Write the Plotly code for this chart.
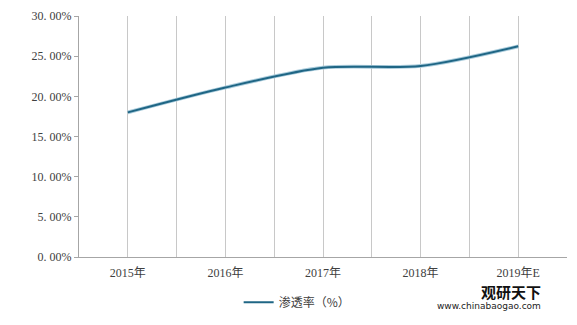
import plotly.graph_objects as go

categories = ["2015年", "2016年", "2017年", "2018年", "2019年E"]
penetration = [0.180, 0.211, 0.2356, 0.2378, 0.2623]
series_name = "渗透率（%）"
y_ticks = [0, 0.05, 0.10, 0.15, 0.20, 0.25, 0.30]
y_tick_text = ["0. 00%", "5. 00%", "10. 00%", "15. 00%", "20. 00%", "25. 00%", "30. 00%"]

xs = list(range(len(categories)))
font_family = "Liberation Serif, Noto Sans CJK SC, serif"

fig = go.Figure()
fig.add_trace(go.Scatter(
    x=xs, y=penetration, mode="lines", line=dict(color="#a9cbdb", width=3.8, shape="spline", smoothing=0.8),
    showlegend=False, hoverinfo="skip"))
fig.add_trace(go.Scatter(
    x=xs, y=penetration, mode="lines", name=series_name,
    line=dict(color="#1f6685", width=2.0, shape="spline", smoothing=0.8)))

fig.update_layout(
    width=577, height=325,
    margin=dict(l=79, r=10, t=16, b=68, autoexpand=False),
    paper_bgcolor="white", plot_bgcolor="white",
    font=dict(family=font_family, size=12, color="#404040"),
    showlegend=True,
    legend=dict(orientation="h", x=0.515, xanchor="center", xref="container",
                y=0.07, yanchor="middle", yref="container",
                font=dict(family="Noto Sans CJK SC, serif", size=12, color="#404040"),
                itemwidth=30),
    xaxis=dict(range=[-0.5, len(categories) - 0.5], tickvals=xs, ticktext=categories,
               showgrid=False, showline=True, linecolor="#a6a6a6", linewidth=1,
               ticks="outside", ticklen=5, tickcolor="rgba(0,0,0,0)", zeroline=False,
               tickfont=dict(family=font_family, size=12, color="#404040"),
               minor=dict(tick0=-0.5, dtick=0.5, showgrid=True, gridcolor="#c8c8c8", gridwidth=1)),
    yaxis=dict(range=[0, 0.30], tickvals=y_ticks, ticktext=y_tick_text,
               showgrid=False, showline=True, linecolor="#a6a6a6", linewidth=1,
               ticks="outside", ticklen=4, tickcolor="#a6a6a6", zeroline=False,
               tickfont=dict(family=font_family, size=12, color="#404040")),
)

# watermark text
fig.add_annotation(x=0.885, y=-0.09, xref="paper", yref="paper", text="<b>观研天下</b>",
                   showarrow=False, font=dict(family="Noto Sans CJK SC", size=15, color="#111111"),
                   xanchor="center", yanchor="top")
fig.add_annotation(x=0.84, y=-0.175, xref="paper", yref="paper", text="www.chinabaogao.com",
                   showarrow=False, font=dict(family="DejaVu Sans", size=9, color="#222222"),
                   xanchor="center", yanchor="top")

fig.write_html("out.html")
